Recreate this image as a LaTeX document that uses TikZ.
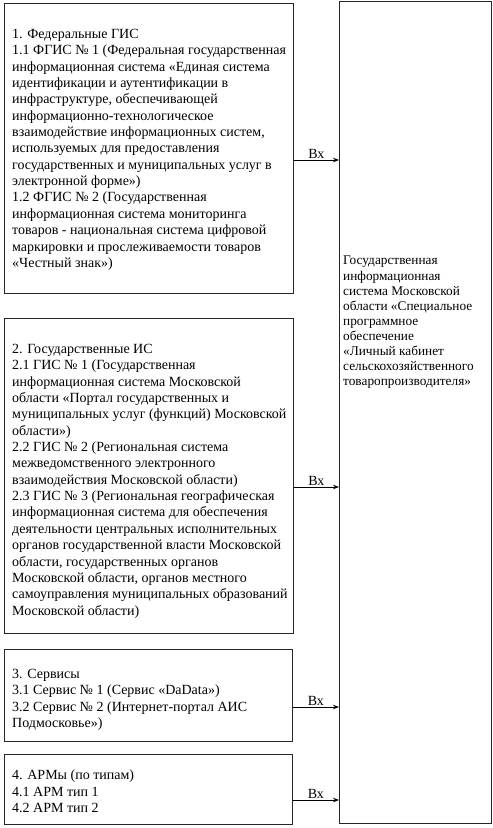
\documentclass[tikz,border=0pt]{standalone}
\usepackage{fontspec}
\setmainfont{Liberation Serif}
\usetikzlibrary{arrows.meta}
\begin{document}
\begin{tikzpicture}[x=1bp,y=-1bp,
  box/.style={draw=black!85,line width=0.8bp,inner sep=0pt,anchor=north west},
  txt/.style={anchor=north west,align=left,inner sep=0pt,font=\fontsize{14bp}{16.35bp}\selectfont},
  rtxt/.style={anchor=north west,align=left,inner sep=0pt,font=\fontsize{13.3bp}{15.1bp}\selectfont},
  arr/.style={draw=black,line width=0.8bp,-{Stealth[length=6bp,width=4.5bp]}},
  lbl/.style={font=\fontsize{14bp}{15bp}\selectfont,inner sep=1bp,above}]
\useasboundingbox (0,0) rectangle (493,828);
\node[box,minimum width=289bp,minimum height=290bp] (b1) at (4,3) {};
\node[box,minimum width=289bp,minimum height=315bp] (b2) at (4,318) {};
\node[box,minimum width=288bp,minimum height=92bp] (b3) at (4,649) {};
\node[box,minimum width=288bp,minimum height=70bp] (b4) at (4,754) {};
\node[box,minimum width=152bp,minimum height=822bp] (r) at (339,1) {};
\node[txt] (t1) at (12,29) {1. Федеральные ГИС\\
1.1 ФГИС № 1 (Федеральная государственная\\
информационная система «Единая система\\
идентификации и аутентификации в\\
инфраструктуре, обеспечивающей\\
информационно-технологическое\\
взаимодействие информационных систем,\\
используемых для предоставления\\
государственных и муниципальных услуг в\\
электронной форме»)\\
1.2 ФГИС № 2 (Государственная\\
информационная система мониторинга\\
товаров - национальная система цифровой\\
маркировки и прослеживаемости товаров\\
«Честный знак»)};
\node[txt] (t2) at (12,344) {2. Государственные ИС\\
2.1 ГИС № 1 (Государственная\\
информационная система Московской\\
области «Портал государственных и\\
муниципальных услуг (функций) Московской\\
области»)\\
2.2 ГИС № 2 (Региональная система\\
межведомственного электронного\\
взаимодействия Московской области)\\
2.3 ГИС № 3 (Региональная географическая\\
информационная система для обеспечения\\
деятельности центральных исполнительных\\
органов государственной власти Московской\\
области, государственных органов\\
Московской области, органов местного\\
самоуправления муниципальных образований\\
Московской области)};
\node[txt] (t3) at (12,669) {3. Сервисы\\
3.1 Сервис № 1 (Сервис «DaData»)\\
3.2 Сервис № 2 (Интернет-портал АИС\\
Подмосковье»)};
\node[txt] (t4) at (12,770) {4. АРМы (по типам)\\
4.1 АРМ тип 1\\
4.2 АРМ тип 2};
\node[rtxt] (rt) at (343,256) {Государственная\\
информационная\\
система Московской\\
области «Специальное\\
программное\\
обеспечение\\
«Личный кабинет\\
сельскохозяйственного\\
товаропроизводителя»};
\coordinate (e1) at (339,160);
\coordinate (e2) at (339,487);
\coordinate (e3) at (339,707);
\coordinate (e4) at (339,800);
\draw[arr] (b1.east |- e1) -- node[lbl] (l1) {Вх} (e1);
\draw[arr] (b2.east |- e2) -- node[lbl] (l2) {Вх} (e2);
\draw[arr] (b3.east |- e3) -- node[lbl] (l3) {Вх} (e3);
\draw[arr] (b4.east |- e4) -- node[lbl] (l4) {Вх} (e4);
\end{tikzpicture}
\end{document}
